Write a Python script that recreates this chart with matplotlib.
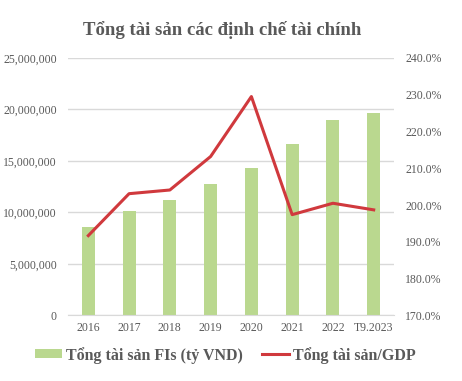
import matplotlib
matplotlib.use("Agg")
import matplotlib.pyplot as plt
from matplotlib.ticker import FuncFormatter

plt.rcParams['font.family'] = ['Liberation Serif', 'DejaVu Serif']

# Data
years = ["2016", "2017", "2018", "2019", "2020", "2021", "2022", "T9.2023"]
assets = [8600000, 10100000, 11250000, 12800000, 14350000, 16600000, 19000000, 19700000]
ratio = [191.7, 203.1, 204.1, 213.2, 229.5, 197.4, 200.5, 198.7]

grey = "#595959"
bar_color = "#BAD88F"
line_color = "#D0393D"

fig = plt.figure(figsize=(4.62, 3.81), dpi=100)
ax = fig.add_axes([0.147, 0.172, 0.706, 0.676])
ax2 = ax.twinx()

x = range(len(years))
ax.bar(x, assets, width=0.32, color=bar_color, zorder=2, label="Tổng tài sản FIs (tỷ VND)")
ax2.plot(x, ratio, color=line_color, linewidth=2.2, label="Tổng tài sản/GDP")

ax.set_ylim(0, 25000000)
ax.set_yticks(range(0, 25000001, 5000000))
ax.yaxis.set_major_formatter(FuncFormatter(lambda v, p: f"{int(v):,}"))
ax2.set_ylim(170, 240)
ax2.set_yticks(range(170, 241, 10))
ax2.yaxis.set_major_formatter(FuncFormatter(lambda v, p: f"{v:.1f}%"))

ax.set_xlim(-0.5, len(years) - 0.5)
ax.set_xticks(list(x))
ax.set_xticklabels(years)

ax.grid(axis="y", color="#D9D9D9", linewidth=1, zorder=0)
ax.set_axisbelow(True)
for a in (ax, ax2):
    for s in a.spines.values():
        s.set_visible(False)
    a.tick_params(length=0, colors=grey, labelsize=8.5)
ax.spines["bottom"].set_visible(True)
ax.spines["bottom"].set_color("#D9D9D9")
ax.tick_params(axis="y", pad=8)
ax2.tick_params(axis="y", pad=8)
ax.tick_params(axis="x", pad=5)

fig.text(0.48, 0.92, "Tổng tài sản các định chế tài chính", ha="center", va="center",
         fontsize=13.5, fontweight="bold", color=grey)

h1, l1 = ax.get_legend_handles_labels()
h2, l2 = ax2.get_legend_handles_labels()
fig.legend(h1 + h2, l1 + l2, loc="center", bbox_to_anchor=(0.488, 0.068), ncol=2,
           frameon=False, prop={"size": 11.5, "weight": "bold"}, labelcolor=grey,
           handlelength=1.7, handleheight=0.5, columnspacing=1.2, handletextpad=0.25)

fig.savefig("out.png", dpi=100)
